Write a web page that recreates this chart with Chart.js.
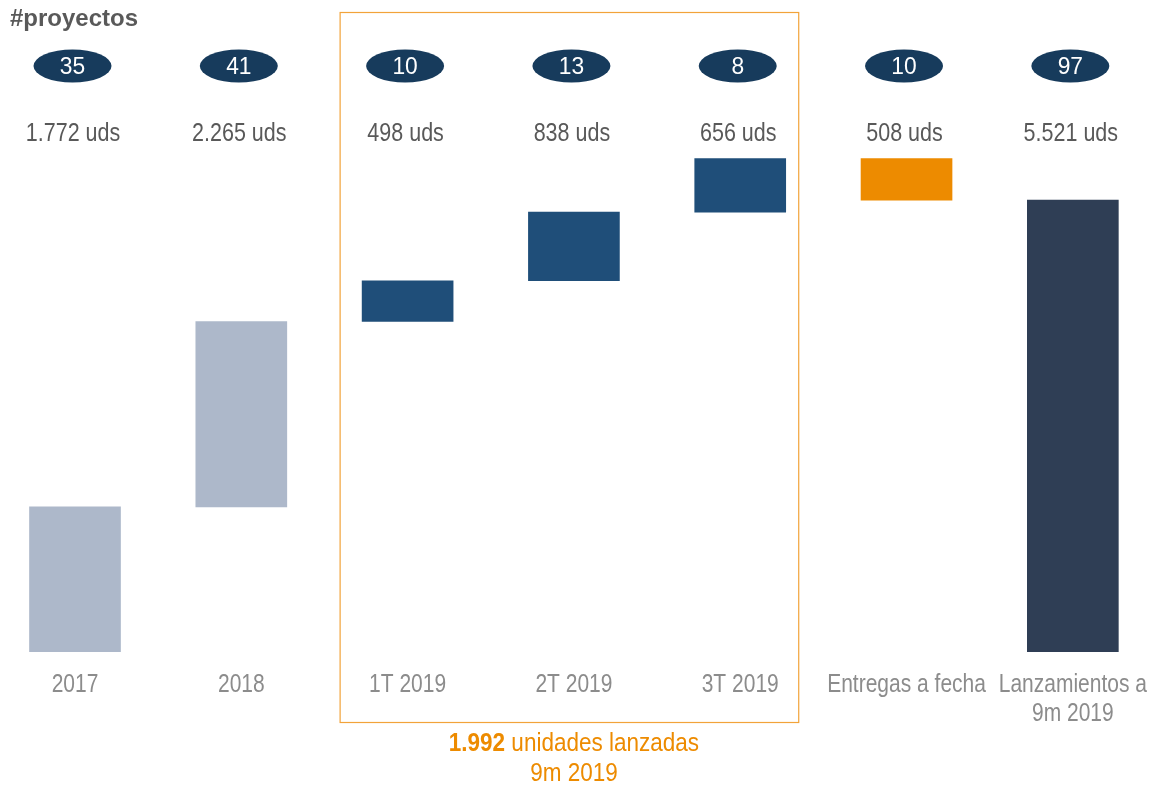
<!DOCTYPE html>
<html>
<head>
<meta charset="utf-8">
<script src="https://cdn.jsdelivr.net/npm/chart.js@4/dist/chart.umd.min.js"></script>
<style>
	body { margin: 0; background: #fff; }
	#wrap { width: 1150px; height: 787px; position: relative; }
</style>
</head>
<body>
<div id="wrap"><canvas id="waterfallChart"></canvas></div>
<script>
const categories = ['2017', '2018', '1T 2019', '2T 2019', '3T 2019', 'Entregas a fecha', ['Lanzamientos a', '9m 2019']];
const units = [1772, 2265, 498, 838, 656, -508, 5521];
const projects = [35, 41, 10, 13, 8, 10, 97];
const barColors = ['#adb8ca', '#adb8ca', '#1f4e79', '#1f4e79', '#1f4e79', '#ed8b00', '#2f3e55'];

const FONT = "'Liberation Sans', Arial, sans-serif";

const fmt = (n) => String(Math.abs(n)).replace(/\B(?=(\d{3})+(?!\d))/g, '.');

// floating ranges for the waterfall, last bar is the total
const getRanges = () => {
	const ranges = [];
	let sum = 0;
	units.forEach((u, i) => {
		if (i === units.length - 1) {
			ranges.push({ x: i, y: [0, u] });
		} else {
			ranges.push({ x: i, y: [sum, sum + u] });
			sum += u;
		}
	});
	return ranges;
};

// draw text squeezed horizontally (narrow look)
const narrowText = (ctx, txt, x, y, font, color, sx, align = 'center') => {
	ctx.save();
	ctx.font = font;
	ctx.fillStyle = color;
	ctx.textAlign = align;
	ctx.textBaseline = 'middle';
	ctx.translate(x, y);
	ctx.scale(sx, 1);
	ctx.fillText(txt, 0, 0);
	ctx.restore();
};

const labelsPlugin = {
	id: 'labelsPlugin',
	afterDatasetsDraw(chart) {
		const ctx = chart.ctx;
		const xs = chart.scales.x;
		const bottom = chart.chartArea.bottom;
		ctx.save();

		// title
		narrowText(ctx, '#proyectos', 10, 19, 'bold 24px ' + FONT, '#595959', 1, 'left');

		units.forEach((u, i) => {
			const x = xs.getPixelForValue(i);
			// ellipse with project count
			ctx.fillStyle = '#173b5c';
			ctx.beginPath();
			ctx.ellipse(x - 2.5, 66, 39, 16.5, 0, 0, Math.PI * 2);
			ctx.fill();
			narrowText(ctx, String(projects[i]), x - 2.5, 67, '24px ' + FONT, '#ffffff', 0.95);
			// units
			narrowText(ctx, fmt(u) + ' uds', x - 2, 134, '25px ' + FONT, '#595959', 0.86);

			// category labels under the axis
			const lines = [].concat(categories[i]);
			lines.forEach((line, k) => {
				narrowText(ctx, line, x, bottom + 33 + k * 29, '25px ' + FONT, '#8c8c8c', 0.84);
			});
		});

		// box around 2019 quarters
		const left = xs.getPixelForValue(2) - 68;
		const right = xs.getPixelForValue(4) + 58;
		ctx.strokeStyle = '#f2a33a';
		ctx.lineWidth = 1.2;
		ctx.strokeRect(left + 0.5, 12.5, right - left, 710);

		const total = units[2] + units[3] + units[4];
		const cx = xs.getPixelForValue(3);
		const sx = 0.9;
		const boldTxt = fmt(total);
		const restTxt = ' unidades lanzadas';
		ctx.font = 'bold 25px ' + FONT;
		const wB = ctx.measureText(boldTxt).width * sx;
		ctx.font = '25px ' + FONT;
		const wR = ctx.measureText(restTxt).width * sx;
		const startX = cx - (wB + wR) / 2;
		narrowText(ctx, boldTxt, startX, 744, 'bold 25px ' + FONT, '#ed8b00', sx, 'left');
		narrowText(ctx, restTxt, startX + wB, 744, '25px ' + FONT, '#ed8b00', sx, 'left');
		narrowText(ctx, '9m 2019', cx, 774, '25px ' + FONT, '#ed8b00', sx);
		ctx.restore();
	},
};

const config = {
	type: 'bar',
	data: {
		datasets: [
			{
				data: getRanges(),
				backgroundColor: barColors,
				borderWidth: 0,
				barThickness: 91,
			},
		],
	},
	options: {
		responsive: true,
		maintainAspectRatio: false,
		animation: false,
		layout: { padding: { top: 79, left: 0, right: 0, bottom: 135 } },
		plugins: { legend: { display: false }, tooltip: { enabled: false } },
		scales: {
			x: {
				type: 'linear',
				display: false,
				offset: false,
				min: -0.451,
				max: 6.464,
			},
			y: {
				display: false,
				min: 0,
				max: 7000,
			},
		},
	},
	plugins: [labelsPlugin],
};

const ctx = document.getElementById('waterfallChart').getContext('2d');
const myChart = new Chart(ctx, config);
</script>
</body>
</html>
